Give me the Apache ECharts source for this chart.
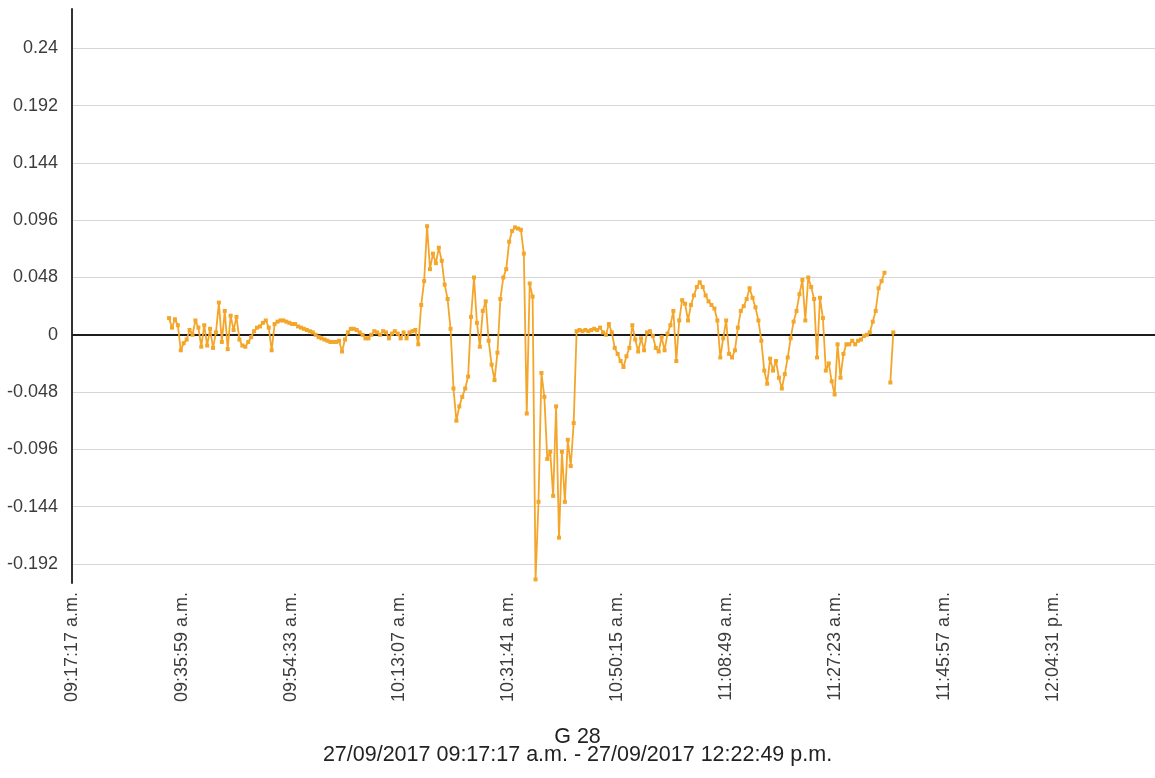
<!DOCTYPE html>
<html>
<head>
<meta charset="utf-8">
<script src="https://cdn.jsdelivr.net/npm/echarts@6/dist/echarts.min.js"></script>
<style>
  html, body { margin: 0; padding: 0; background: #ffffff; }
  #chart { width: 1155px; height: 778px; }
</style>
</head>
<body>
<div id="chart"></div>
<script>
// Sensor G 28, 27/09/2017 — readings every 30 s
const chartName = 'G 28';
const dayLabel = '27/09/2017';
const rangeStart = '09:17:17';
const rangeEnd = '12:22:49';

// Time-axis tick labels (hh:mm:ss)
const xTickLabels = ['09:17:17', '09:35:59', '09:54:33', '10:13:07', '10:31:41',
                     '10:50:15', '11:08:49', '11:27:23', '11:45:57', '12:04:31'];

// Value-axis ticks
const yTickValues = [-0.192, -0.144, -0.096, -0.048, 0, 0.048, 0.096, 0.144, 0.192, 0.24];
const yMin = -0.208;
const yMax = 0.273;

// First sample time and sampling step (seconds)
const firstSample = '09:33:50';
const sampleStep = 30;

// Readings (null = missing sample)
const g28Values = [
  0.014, 0.006, 0.013, 0.008, -0.013, -0.007, -0.004, 0.004, 0.000, 0.012,
  0.006, -0.010, 0.008, -0.009, 0.005, -0.011, 0.002, 0.027, -0.006, 0.020,
  -0.012, 0.016, 0.004, 0.015, -0.004, -0.009, -0.010, -0.006, -0.002, 0.003,
  0.006, 0.007, 0.010, 0.012, 0.006, -0.013, 0.009, 0.011,
  0.012, 0.012, 0.011, 0.010, 0.009, 0.009, 0.007, 0.006, 0.005, 0.004,
  0.003, 0.002, 0.000, -0.002, -0.003, -0.004, -0.005, -0.006, -0.006, -0.006,
  -0.005, -0.014, -0.004, 0.002, 0.005, 0.005, 0.004, 0.002, 0.000, -0.003,
  -0.003, 0.000, 0.003, 0.002, 0.000, 0.003, 0.002, -0.003, 0.001, 0.003,
  0.001, -0.003, 0.002, -0.003, 0.002, 0.003, 0.004, -0.008,
  0.025, 0.045, 0.091, 0.055, 0.068, 0.060, 0.073, 0.062, 0.042, 0.030,
  0.005, -0.045, -0.072, -0.060, -0.052, -0.045, -0.035, 0.015, 0.048, 0.010,
  -0.010, 0.020, 0.028, -0.005, -0.025, -0.038, -0.015, 0.030, 0.048, 0.055,
  0.078, 0.087, 0.090, 0.089, 0.088, 0.068, -0.066, 0.043, 0.032, -0.205,
  -0.140, -0.032, -0.052, -0.104, -0.098, -0.135, -0.060, -0.170, -0.098, -0.140,
  -0.088, -0.110, -0.074, 0.003, 0.004,
  0.003, 0.004, 0.003, 0.004, 0.005, 0.004, 0.006, 0.002, 0.000, 0.009,
  0.002, -0.011, -0.016, -0.022, -0.027, -0.018, -0.011, 0.008, -0.004, -0.014,
  -0.003, -0.013, 0.002, 0.003, -0.001, -0.011, -0.014, -0.002, -0.013, 0.001,
  0.008, 0.020, -0.022, 0.012, 0.029, 0.026, 0.012, 0.025, 0.033, 0.040,
  0.044, 0.040, 0.033, 0.028, 0.025, 0.022, 0.012, -0.019, -0.003, 0.012,
  -0.016, -0.019, -0.013, 0.006, 0.020, 0.024, 0.030, 0.039, 0.031, 0.023,
  0.012, -0.005, -0.030, -0.041, -0.020, -0.030, -0.022, -0.036, -0.045, -0.033,
  -0.019, -0.003, 0.011, 0.020, 0.034, 0.046, 0.012, 0.048, 0.040, 0.030,
  -0.019, 0.031, 0.014, -0.030, -0.024, -0.039, -0.050, -0.008, -0.036, -0.016,
  -0.008, -0.008, -0.005, -0.008, -0.005, -0.004, -0.001, 0.000, 0.002, 0.011,
  0.020, 0.039, 0.045, 0.052, null, -0.040, 0.002
];

function toSeconds(hms) {
  const p = hms.split(':').map(Number);
  return p[0] * 3600 + p[1] * 60 + p[2];
}
function pad(n) { return (n < 10 ? '0' : '') + n; }
function clockLabel(sec) {
  const h = Math.floor(sec / 3600), m = Math.floor((sec % 3600) / 60), s = Math.round(sec % 60);
  return pad(h) + ':' + pad(m) + ':' + pad(s) + (h < 12 ? ' a.m.' : ' p.m.');
}

const t0 = toSeconds(firstSample);
const seriesData = g28Values.map((v, i) => [t0 + i * sampleStep, v]);
const xTicks = xTickLabels.map(toSeconds);

const labelFont = { fontFamily: 'Liberation Sans, Arial, sans-serif', fontSize: 18, color: '#3c3c3c' };
const lineColor = '#F4A62A';

const chart = echarts.init(document.getElementById('chart'), null, { renderer: 'canvas' });
chart.setOption({
  animation: false,
  backgroundColor: '#ffffff',
  title: {
    text: chartName + '\n' + dayLabel + ' ' + clockLabel(toSeconds(rangeStart)) + ' - ' +
          dayLabel + ' ' + clockLabel(toSeconds(rangeEnd)),
    left: 'center',
    top: 728,
    padding: 0,
    textStyle: {
      fontFamily: 'Liberation Sans, Arial, sans-serif',
      fontSize: 21.5,
      fontWeight: 'normal',
      color: '#222222',
      lineHeight: 18
    }
  },
  grid: {
    left: 72, top: 9, width: 1088, height: 574,
    containLabel: false,
    outerBoundsMode: 'none'
  },
  xAxis: {
    type: 'value',
    min: toSeconds(rangeStart),
    max: toSeconds(rangeEnd),
    axisLine: { show: false },
    axisTick: { show: false, customValues: xTicks },
    splitLine: { show: false },
    axisLabel: Object.assign({
      customValues: xTicks,
      rotate: 90,
      margin: 9,
      formatter: (v) => clockLabel(v)
    }, labelFont)
  },
  yAxis: {
    type: 'value',
    min: yMin,
    max: yMax,
    axisLine: { show: true, onZero: false, lineStyle: { color: '#333333', width: 2 } },
    axisTick: { show: false, customValues: yTickValues },
    axisLabel: Object.assign({
      customValues: yTickValues,
      margin: 14,
      formatter: (v) => String(v)
    }, labelFont),
    splitLine: { show: true, lineStyle: { color: '#d6d6d6', width: 1 } }
  },
  series: [
    {
      // zero reference line
      type: 'line',
      data: [],
      silent: true,
      z: 1,
      markLine: {
        silent: true,
        z: 1,
        symbol: 'none',
        label: { show: false },
        lineStyle: { color: '#1c1c1c', width: 2, type: 'solid' },
        emphasis: { disabled: true },
        data: [{ yAxis: 0 }]
      }
    },
    {
      name: chartName,
      type: 'line',
      data: seriesData,
      z: 3,
      symbol: 'rect',
      symbolSize: 4,
      showSymbol: true,
      connectNulls: false,
      lineStyle: { color: lineColor, width: 1.8 },
      itemStyle: { color: lineColor },
      emphasis: { disabled: true }
    }
  ]
});
</script>
</body>
</html>
